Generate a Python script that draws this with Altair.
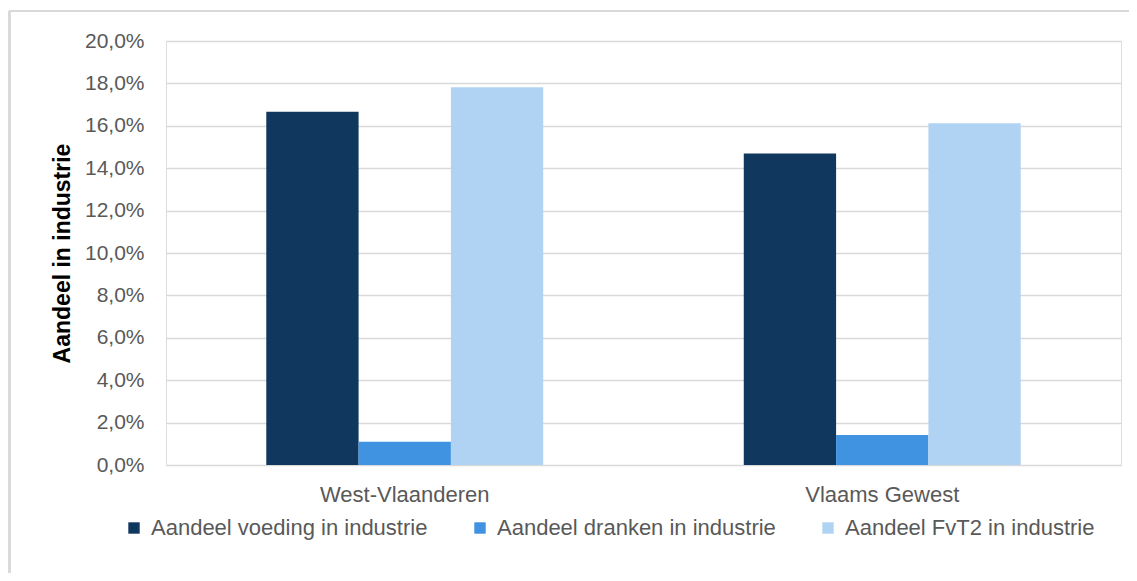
import altair as alt
import pandas as pd

regions = ["West-Vlaanderen", "Vlaams Gewest"]
series = ["Aandeel voeding in industrie", "Aandeel dranken in industrie", "Aandeel FvT2 in industrie"]
voeding = [0.1666, 0.1469]
dranken = [0.0110, 0.0141]
fvt2 = [0.1782, 0.1612]
colors = ["#10385E", "#3F93E0", "#B0D3F3"]
y_ticks = [0.0, 0.02, 0.04, 0.06, 0.08, 0.10, 0.12, 0.14, 0.16, 0.18, 0.20]

rows = []
for i, r in enumerate(regions):
    for s, vals in zip(series, [voeding, dranken, fvt2]):
        rows.append({"regio": r, "reeks": s, "waarde": vals[i]})
df = pd.DataFrame(rows)

FONT = "Liberation Sans"
GRAY = "#595959"

bars = alt.Chart(df).mark_bar(clip=False).encode(
    x=alt.X("regio:N", sort=regions,
            scale=alt.Scale(domain=regions, paddingInner=0.42, paddingOuter=0.21),
            axis=alt.Axis(title=None, labelAngle=0, ticks=False, domain=False,
                          labelPadding=19, labelFontSize=22, labelColor=GRAY, labelFont=FONT)),
    xOffset=alt.XOffset("reeks:N", sort=series,
                        scale=alt.Scale(domain=series, paddingInner=0, paddingOuter=0)),
    y=alt.Y("waarde:Q",
            scale=alt.Scale(domain=[0, 0.2], nice=False),
            axis=alt.Axis(title="Aandeel in industrie", values=y_ticks,
                          labelExpr="replace(format(datum.value, '.1%'), '.', ',')",
                          ticks=False, domain=False, labelPadding=22,
                          labelFontSize=21, labelColor=GRAY, labelFont=FONT,
                          gridColor="#D9D9D9", gridWidth=1.5,
                          titleFont=FONT, titleFontSize=23, titleFontWeight="bold",
                          titleColor="#000000", titleX=-104, titleY=212,
                          titleAngle=270, titleAlign="center", titleBaseline="middle")),
    color=alt.Color("reeks:N", sort=series,
                    scale=alt.Scale(domain=series, range=colors),
                    legend=alt.Legend(title=None, orient="none", direction="horizontal",
                                      legendX=-43, legendY=476,
                                      symbolType="square", symbolSize=130,
                                      symbolStrokeWidth=0, labelOffset=6,
                                      columnPadding=41,
                                      labelFontSize=22, labelColor=GRAY, labelFont=FONT,
                                      labelLimit=400)),
)

frame_left = alt.Chart(df).mark_rule(color="#D9D9D9", strokeWidth=2, clip=False).encode(
    x=alt.value(-156.5), y=alt.value(-30), y2=alt.value(600)
)
frame_top = alt.Chart(df).mark_rule(color="#D9D9D9", strokeWidth=2, clip=False).encode(
    x=alt.value(-156.5), x2=alt.value(1100), y=alt.value(-30)
)

chart = alt.layer(frame_left, frame_top, bars).properties(
    width=955, height=424,
    autosize=alt.AutoSizeParams(type="none"),
    padding={"left": 158, "top": 33, "right": 8, "bottom": 108},
).configure_view(
    stroke="#D9D9D9", strokeWidth=2
).configure(background="white")

chart.save("out.html", embed_options={"renderer": "svg", "actions": False})
